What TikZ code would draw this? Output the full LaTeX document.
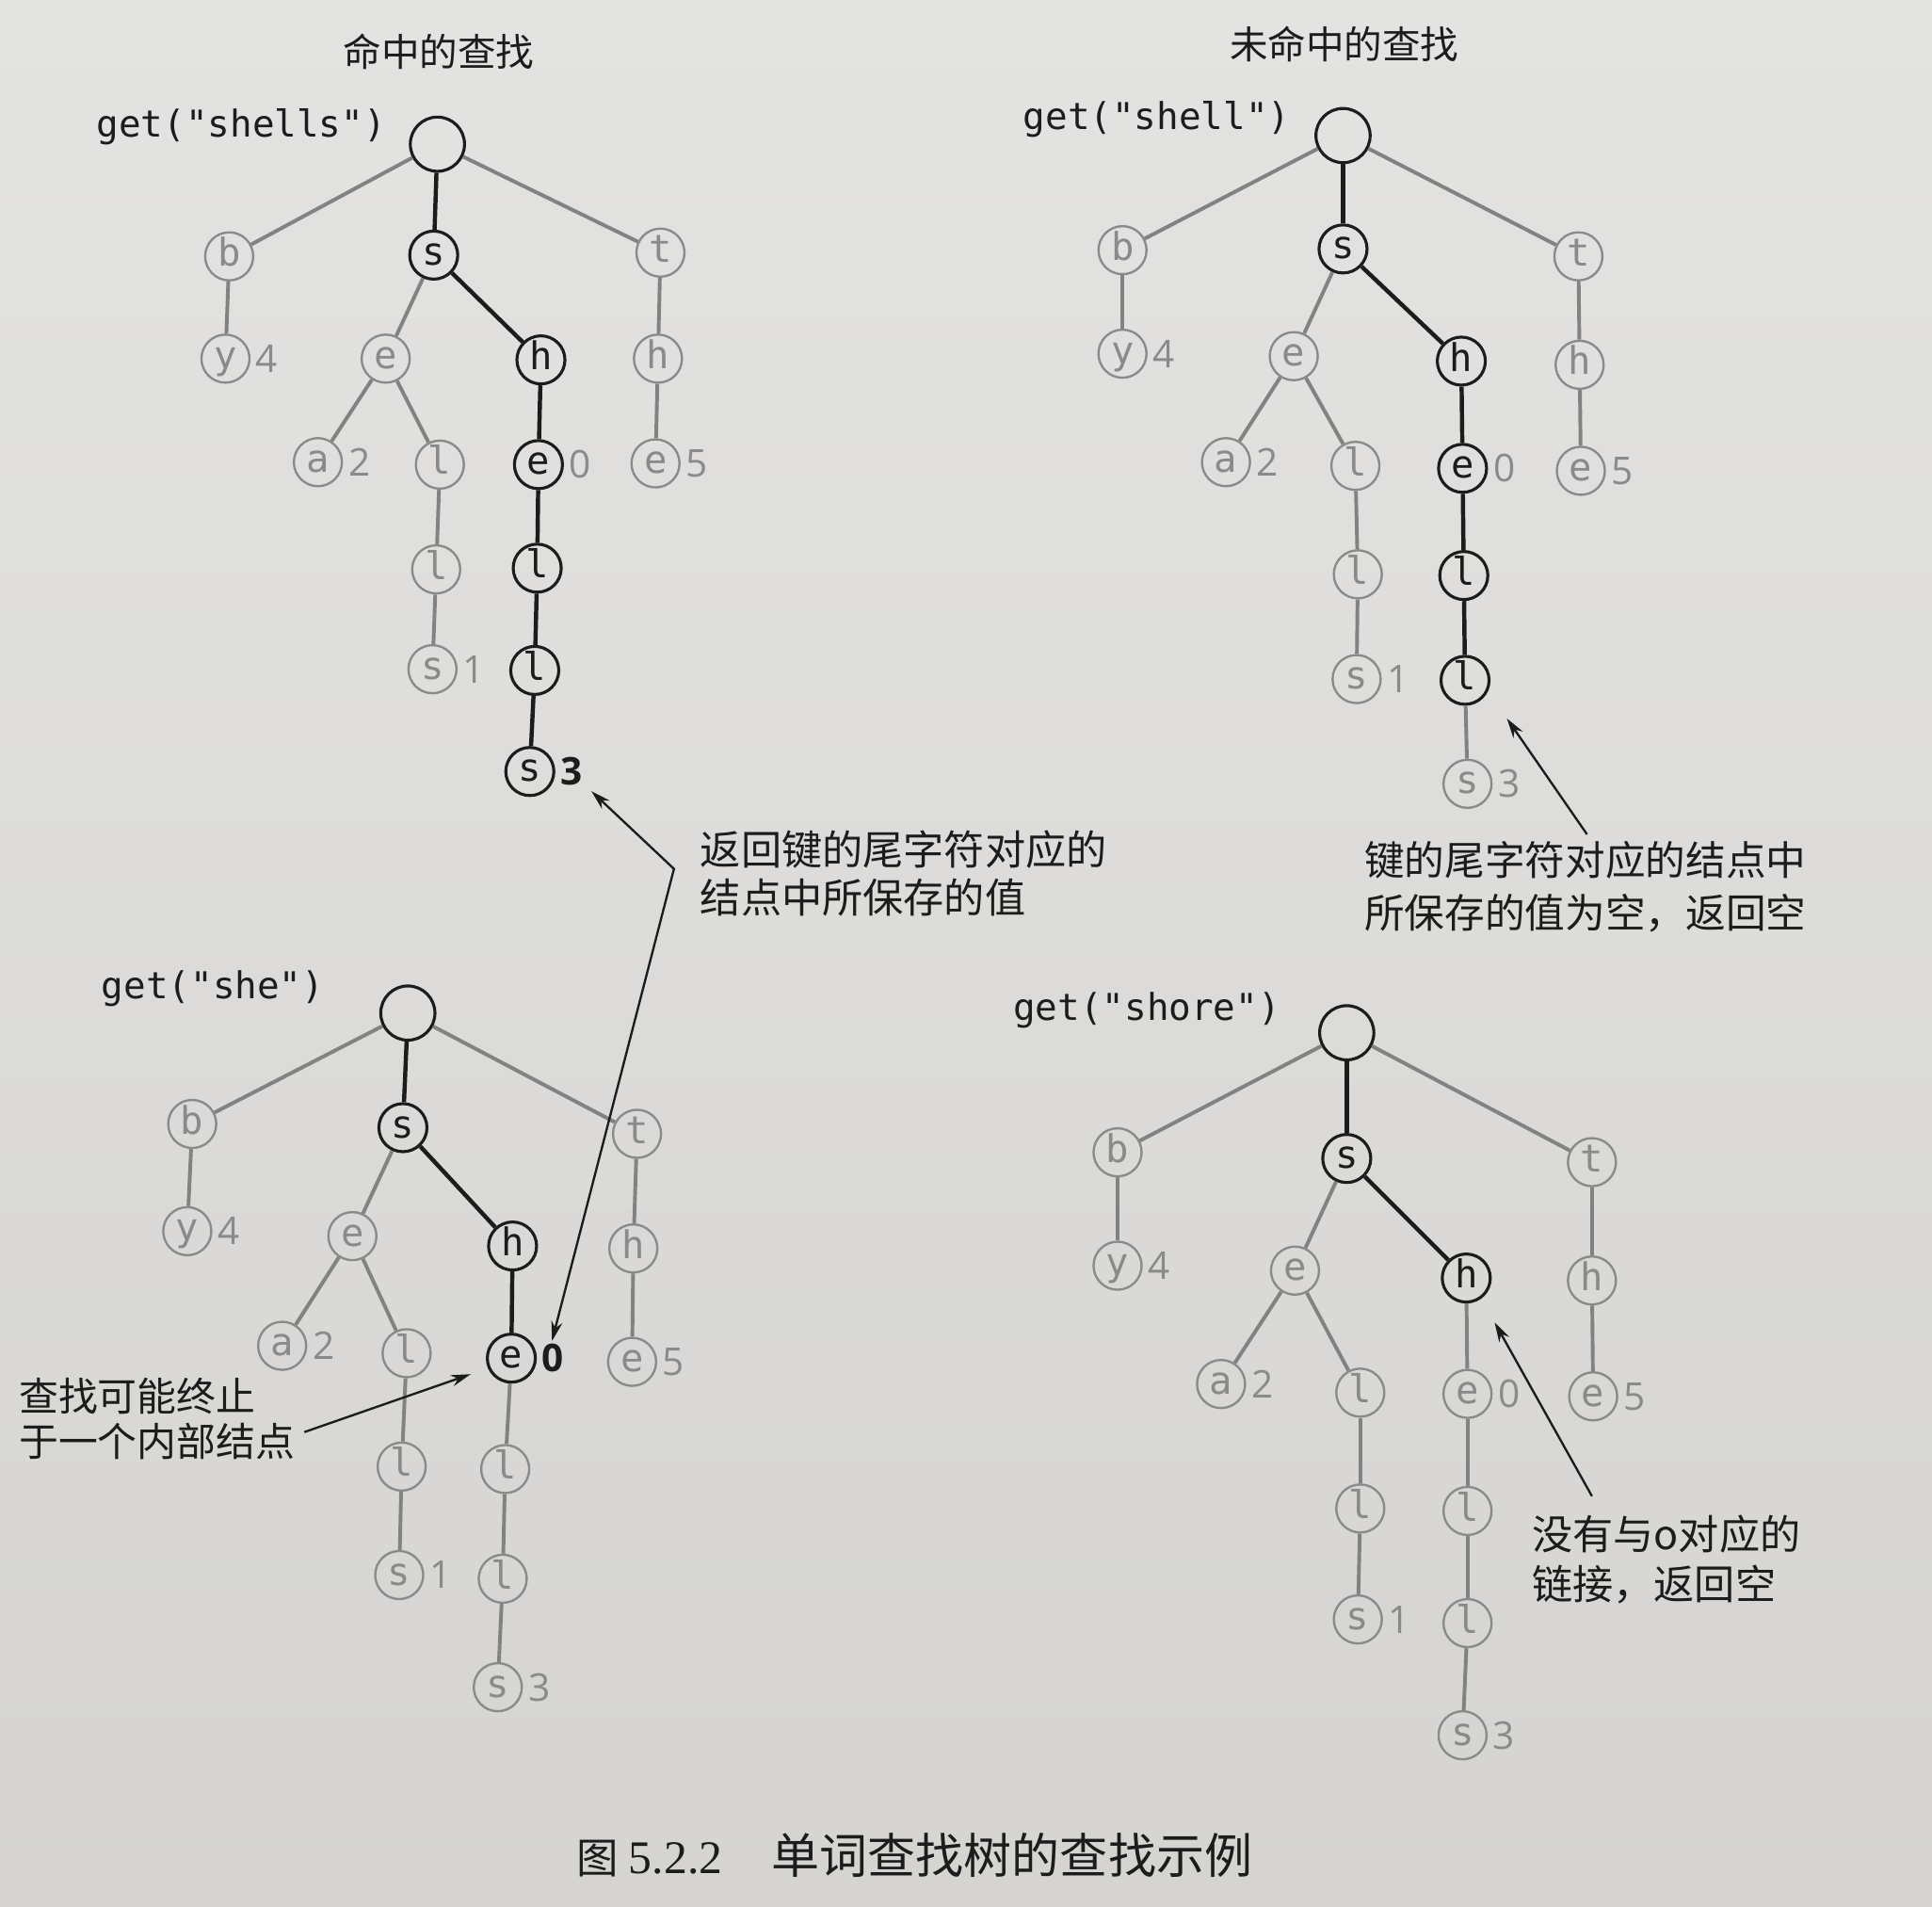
\documentclass[tikz,border=0pt]{standalone}
\usepackage{fontspec}
\setmonofont{DejaVu Sans Mono}
\newfontfamily\cjk{Noto Sans CJK SC}
\newfontfamily\digitf{Open Sans}
\newfontfamily\capserif{Liberation Serif}
\usetikzlibrary{arrows.meta}
\definecolor{paperTop}{HTML}{E3E3E1}
\definecolor{paperBot}{HTML}{D5D4D1}
\definecolor{ink}{HTML}{1C1C1C}
\definecolor{greyink}{HTML}{8A8A8A}
\definecolor{greyline}{HTML}{828282}
\tikzset{
 tn/.style={circle, minimum size=19.5pt, inner sep=0pt, text height=11.2pt, text depth=3.1pt,
   font=\ttfamily\fontsize{15.5}{15.5}\selectfont},
 gn/.style={tn, draw=greyink, line width=0.9pt, text=greyink},
 bn/.style={tn, draw=ink, line width=1.2pt, text=ink},
 rootn/.style={circle, minimum size=22pt, inner sep=0pt, draw=ink, line width=1.2pt},
 ge/.style={draw=greyline, line width=1.5pt},
 be/.style={draw=ink, line width=1.7pt},
 gv/.style={anchor=west, inner sep=0pt, xshift=2pt, text=greyink, font=\digitf\fontsize{15.5}{15.5}\selectfont},
 bv/.style={gv, text=ink, font=\digitf\bfseries\fontsize{15.5}{15.5}\selectfont},
 gettxt/.style={anchor=west, inner sep=0pt, text=ink, font=\ttfamily\fontsize{15}{15}\selectfont},
 ttl/.style={inner sep=0pt, text=ink, font=\cjk\fontsize{15.5}{15.5}\selectfont},
 annot/.style={anchor=base west, align=left, inner sep=0pt, text=ink},
 arr/.style={draw=ink, line width=0.9pt, -{Stealth[length=8pt,width=4.6pt]}},
 arr2/.style={draw=ink, line width=0.9pt, {Stealth[length=8pt,width=4.6pt]}-{Stealth[length=8pt,width=4.6pt]}},
}
\begin{document}
\begin{tikzpicture}[x=0.5pt,y=-0.5pt]
\shade[top color=paperTop, bottom color=paperBot] (0,0) rectangle (1568,1547);
\useasboundingbox (0,0) rectangle (1568,1547);

% titles
\node[ttl] (title1) at (356,42) {命中的查找};
\node[ttl] (title2) at (1091,36) {未命中的查找};

% ---------- tree A : get("shells") ----------
\node[gettxt] (A-get) at (78,103) {get("shells")};
\node[rootn] (A-r) at (355,117) {};
\node[gn] (A-b) at (186,208) {b};
\node[bn] (A-s) at (352,207) {s};
\node[gn] (A-t) at (536,205) {t};
\node[gn] (A-y) at (183,291) {y};
\node[gn] (A-e) at (313,291) {e};
\node[bn] (A-h) at (439,292) {h};
\node[gn] (A-th) at (534,291) {h};
\node[gn] (A-a) at (258,375) {a};
\node[gn] (A-l1) at (357,377) {l};
\node[bn] (A-he) at (437,377) {e};
\node[gn] (A-te) at (532,376) {e};
\node[gn] (A-l2) at (354,462) {l};
\node[bn] (A-hl1) at (436,461) {l};
\node[gn] (A-s1) at (351,543) {s};
\node[bn] (A-hl2) at (434,544) {l};
\node[bn] (A-hs) at (430,626) {s};
\node[gv] (A-yv) at (A-y.east) {4};
\node[gv] (A-av) at (A-a.east) {2};
\node[gv] (A-hev) at (A-he.east) {0};
\node[gv] (A-tev) at (A-te.east) {5};
\node[gv] (A-s1v) at (A-s1.east) {1};
\node[bv] (A-hsv) at (A-hs.east) {3};
\foreach \u/\v/\st in {r/b/ge, r/s/be, r/t/ge, b/y/ge, s/e/ge, s/h/be, t/th/ge, e/a/ge, e/l1/ge,
  h/he/be, th/te/ge, l1/l2/ge, he/hl1/be, l2/s1/ge, hl1/hl2/be, hl2/hs/be}
  \draw[\st] (A-\u) -- (A-\v);

% ---------- tree B : get("shell") ----------
\node[gettxt] (B-get) at (830,97) {get("shell")};
\node[rootn] (B-r) at (1090,110) {};
\node[gn] (B-b) at (911,203) {b};
\node[bn] (B-s) at (1090,202) {s};
\node[gn] (B-t) at (1281,208) {t};
\node[gn] (B-y) at (911,287) {y};
\node[gn] (B-e) at (1050,289) {e};
\node[bn] (B-h) at (1186,293) {h};
\node[gn] (B-th) at (1282,296) {h};
\node[gn] (B-a) at (995,375) {a};
\node[gn] (B-l1) at (1100,378) {l};
\node[bn] (B-he) at (1187,380) {e};
\node[gn] (B-te) at (1283,382) {e};
\node[gn] (B-l2) at (1102,466) {l};
\node[bn] (B-hl1) at (1188,467) {l};
\node[gn] (B-s1) at (1101,551) {s};
\node[bn] (B-hl2) at (1189,552) {l};
\node[gn] (B-hs) at (1191,636) {s};
\node[gv] (B-yv) at (B-y.east) {4};
\node[gv] (B-av) at (B-a.east) {2};
\node[gv] (B-hev) at (B-he.east) {0};
\node[gv] (B-tev) at (B-te.east) {5};
\node[gv] (B-s1v) at (B-s1.east) {1};
\node[gv] (B-hsv) at (B-hs.east) {3};
\foreach \u/\v/\st in {r/b/ge, r/s/be, r/t/ge, b/y/ge, s/e/ge, s/h/be, t/th/ge, e/a/ge, e/l1/ge,
  h/he/be, th/te/ge, l1/l2/ge, he/hl1/be, l2/s1/ge, hl1/hl2/be, hl2/hs/ge}
  \draw[\st] (B-\u) -- (B-\v);

% ---------- tree C : get("she") ----------
\node[gettxt] (C-get) at (82,802) {get("she")};
\node[rootn] (C-r) at (331,822) {};
\node[gn] (C-b) at (156,912) {b};
\node[bn] (C-s) at (327,915) {s};
\node[gn] (C-t) at (517,920) {t};
\node[gn] (C-y) at (152,999) {y};
\node[gn] (C-e) at (286,1003) {e};
\node[bn] (C-h) at (416,1011) {h};
\node[gn] (C-th) at (514,1013) {h};
\node[gn] (C-a) at (229,1092) {a};
\node[gn] (C-l1) at (330,1098) {l};
\node[bn] (C-he) at (415,1102) {e};
\node[gn] (C-te) at (513,1105) {e};
\node[gn] (C-l2) at (326,1190) {l};
\node[gn] (C-hl1) at (410,1192) {l};
\node[gn] (C-s1) at (324,1278) {s};
\node[gn] (C-hl2) at (408,1281) {l};
\node[gn] (C-hs) at (404,1369) {s};
\node[gv] (C-yv) at (C-y.east) {4};
\node[gv] (C-av) at (C-a.east) {2};
\node[bv] (C-hev) at (C-he.east) {0};
\node[gv] (C-tev) at (C-te.east) {5};
\node[gv] (C-s1v) at (C-s1.east) {1};
\node[gv] (C-hsv) at (C-hs.east) {3};
\foreach \u/\v/\st in {r/b/ge, r/s/be, r/t/ge, b/y/ge, s/e/ge, s/h/be, t/th/ge, e/a/ge, e/l1/ge,
  h/he/be, th/te/ge, l1/l2/ge, he/hl1/ge, l2/s1/ge, hl1/hl2/ge, hl2/hs/ge}
  \draw[\st] (C-\u) -- (C-\v);

% ---------- tree D : get("shore") ----------
\node[gettxt] (D-get) at (822,820) {get("shore")};
\node[rootn] (D-r) at (1093,838) {};
\node[gn] (D-b) at (907,935) {b};
\node[bn] (D-s) at (1093,940) {s};
\node[gn] (D-t) at (1292,943) {t};
\node[gn] (D-y) at (907,1027) {y};
\node[gn] (D-e) at (1051,1031) {e};
\node[bn] (D-h) at (1190,1037) {h};
\node[gn] (D-th) at (1292,1039) {h};
\node[gn] (D-a) at (991,1123) {a};
\node[gn] (D-l1) at (1104,1130) {l};
\node[gn] (D-he) at (1191,1131) {e};
\node[gn] (D-te) at (1293,1133) {e};
\node[gn] (D-l2) at (1104,1224) {l};
\node[gn] (D-hl1) at (1191,1226) {l};
\node[gn] (D-s1) at (1102,1314) {s};
\node[gn] (D-hl2) at (1191,1317) {l};
\node[gn] (D-hs) at (1187,1408) {s};
\node[gv] (D-yv) at (D-y.east) {4};
\node[gv] (D-av) at (D-a.east) {2};
\node[gv] (D-hev) at (D-he.east) {0};
\node[gv] (D-tev) at (D-te.east) {5};
\node[gv] (D-s1v) at (D-s1.east) {1};
\node[gv] (D-hsv) at (D-hs.east) {3};
\foreach \u/\v/\st in {r/b/ge, r/s/be, r/t/ge, b/y/ge, s/e/ge, s/h/be, t/th/ge, e/a/ge, e/l1/ge,
  h/he/ge, th/te/ge, l1/l2/ge, he/hl1/ge, l2/s1/ge, hl1/hl2/ge, hl2/hs/ge}
  \draw[\st] (D-\u) -- (D-\v);

% ---------- annotations (anchor = baseline of last line) ----------
\node[annot, font=\cjk\fontsize{16.5}{19.5}\selectfont] (note1) at (568,741)
  {返回键的尾字符对应的\\结点中所保存的值};
\coordinate (bend1) at (547,705);
\coordinate (tip1a) at (480,642);
\coordinate (tip1b) at (448,1088);
\draw[arr2] (tip1a) -- (bend1) -- (tip1b);

\node[annot, font=\cjk\fontsize{16.3}{21.5}\selectfont] (note2) at (1107,753)
  {键的尾字符对应的结点中\\所保存的值为空，返回空};
\coordinate (tail2) at (1288,677);
\coordinate (tip2) at (1223,583);
\draw[arr] (tail2) -- (tip2);

\node[annot, font=\cjk\fontsize{16}{18.5}\selectfont] (note3) at (15,1182)
  {查找可能终止\\于一个内部结点};
\coordinate (tail3) at (247,1162);
\coordinate (tip3) at (382,1115);
\draw[arr] (tail3) -- (tip3);

\node[annot, font=\cjk\fontsize{16.5}{20.5}\selectfont] (note4) at (1243,1298)
  {没有与o对应的\\链接，返回空};
\coordinate (tail4) at (1292,1214);
\coordinate (tip4) at (1213,1073);
\draw[arr] (tail4) -- (tip4);

% caption
\node[anchor=west, inner sep=0pt, text=ink] (caption) at (468,1505)
  {{\cjk\fontsize{17}{17}\selectfont 图}\hspace{4pt}{\capserif\fontsize{19}{19}\selectfont 5.2.2}\hspace{20pt}{\cjk\fontsize{19.5}{19.5}\selectfont 单词查找树的查找示例}};
\end{tikzpicture}
\end{document}
